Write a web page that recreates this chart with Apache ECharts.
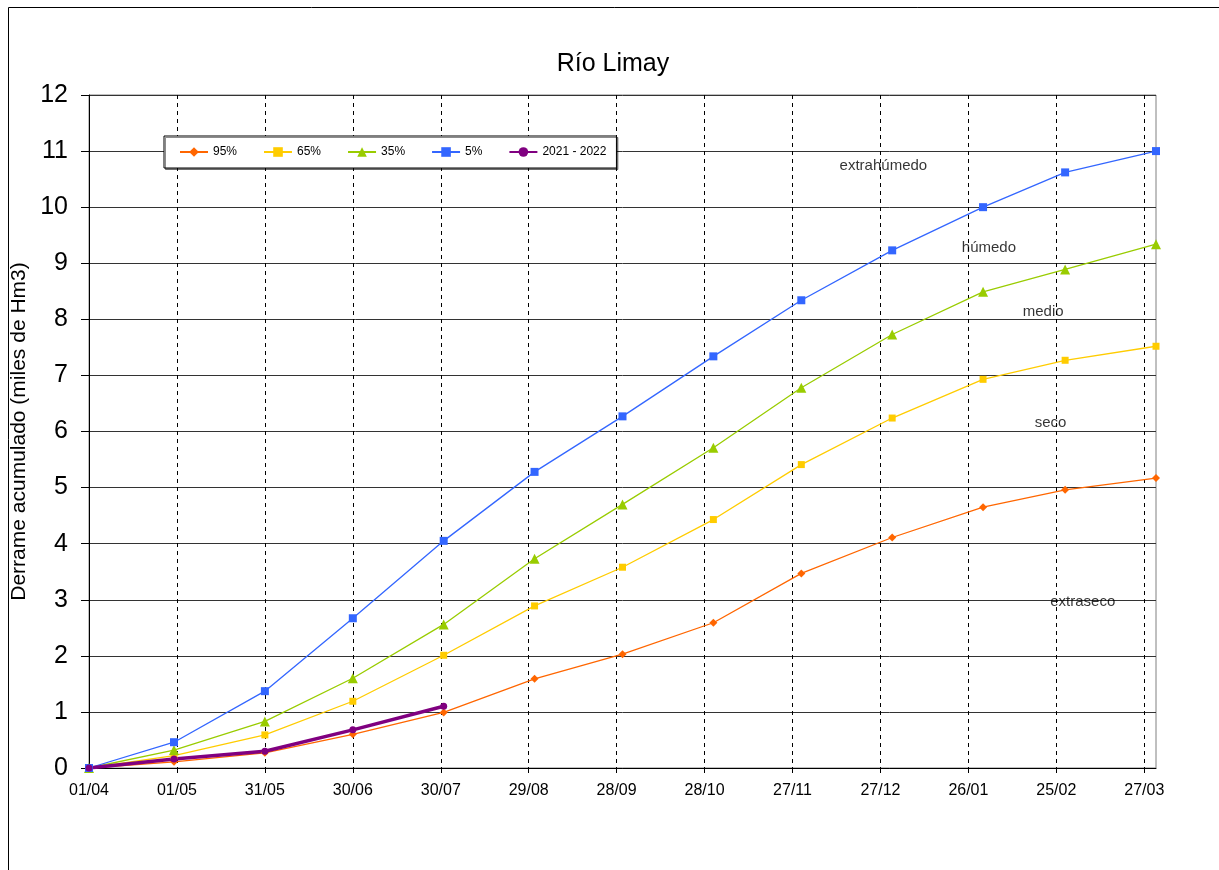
<!DOCTYPE html>
<html>
<head>
<meta charset="utf-8">
<script src="https://cdn.jsdelivr.net/npm/echarts@6/dist/echarts.min.js"></script>
<style>
html,body{margin:0;padding:0;background:#fff;}
#chart{width:1219px;height:870px;}
</style>
</head>
<body>
<div id="chart"></div>
<script>
// Day offsets from 01/04 for each monthly point
var days = [0, 29, 60, 90, 121, 152, 182, 213, 243, 274, 305, 333, 364];
var tickLabels = ['01/04','01/05','31/05','30/06','30/07','29/08','28/09','28/10','27/11','27/12','26/01','25/02','27/03'];
var yTicks = [0,1,2,3,4,5,6,7,8,9,10,11,12];

var p95 = [0, 0.11, 0.27, 0.60, 0.99, 1.59, 2.03, 2.59, 3.47, 4.11, 4.65, 4.96, 5.17];
var p65 = [0, 0.22, 0.59, 1.19, 2.01, 2.89, 3.58, 4.43, 5.41, 6.24, 6.93, 7.27, 7.52];
var p35 = [0, 0.32, 0.83, 1.60, 2.56, 3.73, 4.70, 5.71, 6.78, 7.73, 8.49, 8.89, 9.34];
var p5  = [0, 0.46, 1.37, 2.67, 4.05, 5.28, 6.27, 7.34, 8.34, 9.23, 10.00, 10.62, 11.00];
var y2021 = [0, 0.16, 0.30, 0.68, 1.10];

var seriesNames = ['95%', '65%', '35%', '5%', '2021 - 2022'];

var zoneNames = ['extrahúmedo', 'húmedo', 'medio', 'seco', 'extraseco'];
var zoneX = [271, 307, 325.5, 328, 339];
var zoneY = [10.73, 9.28, 8.14, 6.16, 2.97];

function pairs(vals) { return vals.map(function (v, i) { return [days[i], v]; }); }

var FONT = 'Liberation Sans';
var chart = echarts.init(document.getElementById('chart'), null, {renderer: 'canvas'});

function lineSeries(name, vals, color, symbol, size, width) {
  return {
    name: name, type: 'line', data: pairs(vals),
    symbol: symbol, symbolSize: size, showAllSymbol: true,
    lineStyle: {color: color, width: width},
    itemStyle: {color: color},
    emphasis: {disabled: true}, z: 3
  };
}

var option = {
  animation: false,
  backgroundColor: '#fff',
  textStyle: {fontFamily: FONT},
  title: {
    text: 'Río Limay', top: 47, left: 608, textAlign: 'center',
    textStyle: {fontFamily: FONT, fontSize: 25, fontWeight: 'normal', color: '#000'}
  },
  legend: {
    data: seriesNames,
    left: 164, top: 136,
    itemWidth: 28, itemHeight: 12, itemGap: 26,
    padding: [10, 10, 10, 15],
    backgroundColor: '#fff', borderColor: '#000', borderWidth: 1,
    shadowColor: 'rgba(0,0,0,0.45)', shadowOffsetX: 1.5, shadowOffsetY: 1.5, shadowBlur: 0,
    textStyle: {fontFamily: FONT, fontSize: 12, color: '#000'},
    selectedMode: false
  },
  graphic: [{
    type: 'rect', silent: true, z: -10,
    shape: {x: 8.5, y: 7.5, width: 1230, height: 880},
    style: {fill: null, stroke: '#000', lineWidth: 1}
  }],
  grid: {
    left: 89, top: 95, right: 63, bottom: 102, containLabel: false,
    show: true, borderColor: '#808080', borderWidth: 1, backgroundColor: 'transparent'
  },
  xAxis: {
    type: 'value', min: 0, max: 364, interval: 30,
    axisLine: {show: true, lineStyle: {color: '#000', width: 1}},
    axisTick: {show: true, length: 5, lineStyle: {color: '#000'}},
    axisLabel: {
      showMaxLabel: false, margin: 15,
      fontFamily: FONT, fontSize: 16, color: '#000',
      formatter: function (v) { var i = Math.round(v / 30); return (v % 30 === 0 && tickLabels[i]) ? tickLabels[i] : ''; }
    },
    splitLine: {show: true, showMaxLine: false, lineStyle: {color: '#000', type: [4, 4], width: 1}}
  },
  yAxis: {
    type: 'value', min: 0, max: 12, interval: 1,
    name: 'Derrame acumulado (miles de Hm3)', nameLocation: 'middle', nameGap: 37,
    nameTextStyle: {fontFamily: FONT, fontSize: 21, color: '#000'},
    axisLine: {show: true, lineStyle: {color: '#000', width: 1}},
    axisTick: {show: true, length: 8, lineStyle: {color: '#000'}},
    axisLabel: {
      margin: 21, fontFamily: FONT, fontSize: 25, color: '#000',
      formatter: function (v) { return yTicks.indexOf(v) >= 0 ? String(v) : ''; }
    },
    splitLine: {show: true, lineStyle: {color: '#333', width: 1}}
  },
  series: [
    lineSeries(seriesNames[0], p95, '#FF6600', 'diamond', 8, 1.3),
    lineSeries(seriesNames[1], p65, '#FFCC00', 'rect', 7, 1.3),
    lineSeries(seriesNames[2], p35, '#99CC00', 'triangle', 10, 1.3),
    lineSeries(seriesNames[3], p5, '#3366FF', 'rect', 8, 1.3),
    lineSeries(seriesNames[4], y2021, '#800080', 'circle', 7, 3.5),
    {
      name: 'zonas', type: 'scatter', symbolSize: 0, silent: true, z: 5,
      data: zoneNames.map(function (n, i) { return {name: n, value: [zoneX[i], zoneY[i]]}; }),
      label: {
        show: true, position: 'inside', formatter: '{b}',
        fontFamily: FONT, fontSize: 15, color: '#000'
      }
    }
  ]
};
chart.setOption(option);
</script>
</body>
</html>
